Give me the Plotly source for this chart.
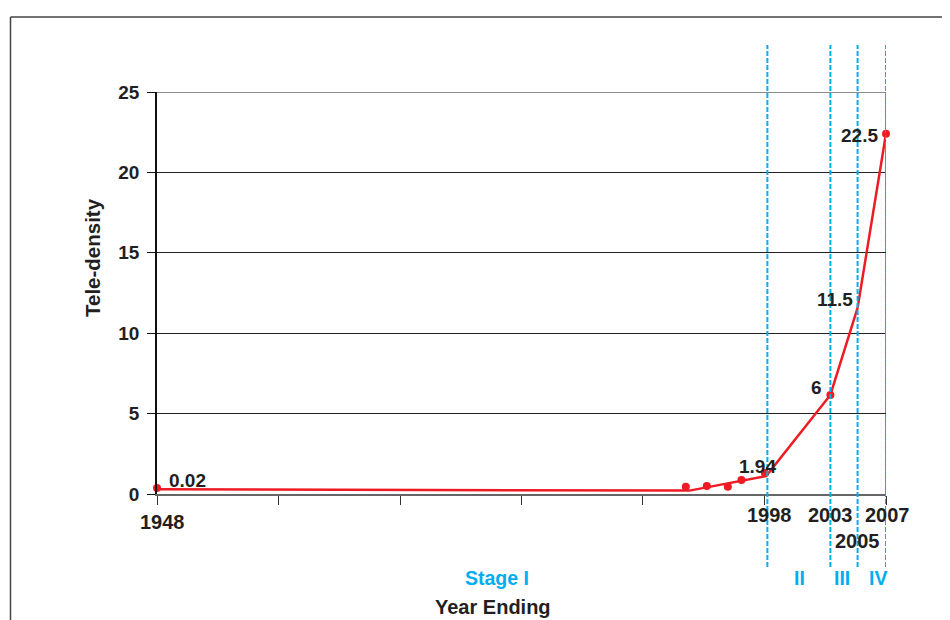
import plotly.graph_objects as go

# ---- data (x in year-scale units) ----
line_x = [1948, 1991.1, 1997.3, 2002.5, 2004.7, 2007]
line_y = [0.29, 0.21, 1.12, 6.16, 11.57, 22.4]

dot_x = [1948, 1990.8, 1992.5, 1994.2, 1995.3, 1997.2, 2002.5, 2007]
dot_y = [0.37, 0.45, 0.5, 0.45, 0.87, 1.3, 6.16, 22.4]

label_x = [1948, 1997.2, 2002.5, 2004.7, 2007]
label_y = [0.37, 1.3, 6.16, 11.57, 22.4]
label_text = ["0.02", "1.94", "6", "11.5", "22.5"]

stage_years = [1997.4, 2002.5, 2004.7, 2007]
year_label_x = [1948, 1997.4, 2002.5, 2007, 2004.7]
year_label_text = ["1948", "1998", "2003", "2007", "2005"]
stage_label_x = [1975.5, 2000.0, 2003.4, 2006.35]
stage_label_text = ["Stage I", "II", "III", "IV"]

y_ticks = [0, 5, 10, 15, 20, 25]
x_ticks = [1948, 1957.83, 1967.67, 1977.5, 1987.33, 1997.17, 2007]

RED = "#ED1C24"
BLUE = "#00AEEF"
DARK = "#231F20"
FONT = "Liberation Sans, Arial, sans-serif"

W, H = 950, 620
OFF = 8  # page body margin


def px(x):
    return (x - OFF) / W


def py(y):
    return 1 - (y - OFF) / H


fig = go.Figure()
fig.add_trace(go.Scatter(x=line_x, y=line_y, mode="lines",
                         line=dict(color=RED, width=2.5), hoverinfo="skip",
                         showlegend=False, cliponaxis=False))
fig.add_trace(go.Scatter(x=dot_x, y=dot_y, mode="markers",
                         marker=dict(color=RED, size=8), showlegend=False,
                         cliponaxis=False))

shapes = []
shapes.append(dict(type="line", xref="x", yref="y", x0=2007, x1=2007, y0=0, y1=25,
                   line=dict(color="#666666", width=1.5), layer="below"))
shapes.append(dict(type="line", xref="x", yref="y", x0=1948, x1=2007, y0=25, y1=25,
                   line=dict(color="#666666", width=1.5), layer="above"))
for sx in stage_years:
    shapes.append(dict(type="line", xref="x", yref="paper", x0=sx, x1=sx,
                       y0=py(567), y1=py(45),
                       line=dict(color=BLUE, width=2, dash="5px,2px")))
shapes.append(dict(type="line", xref="paper", yref="paper", x0=px(10.5), x1=1.02,
                   y0=py(17), y1=py(17), line=dict(color="#444444", width=1.5)))
shapes.append(dict(type="line", xref="paper", yref="paper", x0=px(10.5), x1=px(10.5),
                   y0=-0.05, y1=py(17), line=dict(color="#444444", width=1.5)))

annotations = []
shifts = [(30, 8), (-7, 7), (-14, 7), (-23, 8), (-27, -2)]
for x, y, t, (dx, dy) in zip(label_x, label_y, label_text, shifts):
    annotations.append(dict(x=x, y=y, xref="x", yref="y", text=t, showarrow=False,
                            xshift=dx, yshift=dy,
                            font=dict(family=FONT, size=19, color=DARK, weight="bold")))
year_y = [522, 515, 515, 515, 540.5]
year_dx = [5, 2, 0, 1, 0]
for x, t, yy, dx in zip(year_label_x, year_label_text, year_y, year_dx):
    annotations.append(dict(x=x, y=py(yy), xref="x", yref="paper", text=t,
                            showarrow=False, xshift=dx, yanchor="middle",
                            font=dict(family=FONT, size=20, color=DARK, weight="bold")))
for x, t in zip(stage_label_x, stage_label_text):
    annotations.append(dict(x=x, y=py(578), xref="x", yref="paper", text=t,
                            showarrow=False, yanchor="middle",
                            font=dict(family=FONT, size=19.5, color=BLUE, weight="bold")))
annotations.append(dict(x=px(493), y=py(607), xref="paper", yref="paper",
                        text="Year Ending", showarrow=False, yanchor="middle",
                        font=dict(family=FONT, size=20, color=DARK, weight="bold")))
annotations.append(dict(x=px(93), y=py(258), xref="paper", yref="paper",
                        text="Tele-density", textangle=-90, showarrow=False,
                        xanchor="center", yanchor="middle",
                        font=dict(family=FONT, size=20.5, color=DARK, weight="bold")))

fig.update_layout(
    template="none",
    width=W, height=H, margin=dict(l=0, r=0, t=0, b=0, autoexpand=False),
    paper_bgcolor="white", plot_bgcolor="white",
    shapes=shapes, annotations=annotations,
    xaxis=dict(domain=[px(157), px(886)], range=[1948, 2007], tickmode="array",
               tickvals=x_ticks, showticklabels=False, ticks="outside", ticklen=9,
               tickcolor="#333333", tickwidth=1.2, showgrid=False, zeroline=False,
               automargin=False,
               showline=True, mirror=False, linecolor="#666666", linewidth=1.5),
    yaxis=dict(domain=[py(494), py(92)], range=[0, 25], tickmode="array",
               tickvals=y_ticks, ticks="outside", ticklen=8, tickcolor="#111111",
               tickwidth=1.2, showgrid=True, gridcolor="#222222", gridwidth=1,
               automargin=False,
               zeroline=False, showline=True, linecolor="#111111", linewidth=1.5,
               ticklabelstandoff=4,
               tickfont=dict(family=FONT, size=19, color=DARK, weight="bold")),
)

fig.write_html("out.html")
